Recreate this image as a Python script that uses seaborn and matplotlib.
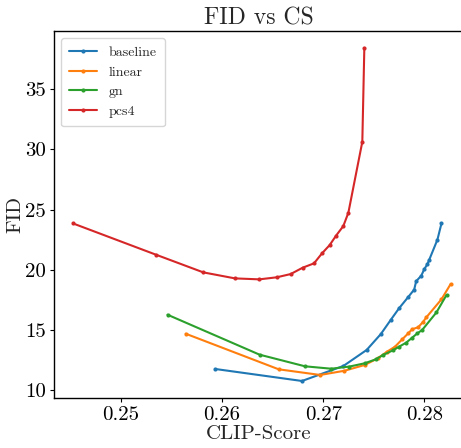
import matplotlib
matplotlib.use("Agg")
import matplotlib.pyplot as plt
import seaborn as sns
import pandas as pd

baseline_x = [0.2593, 0.2679, 0.2720, 0.2743, 0.2757, 0.2767, 0.2775, 0.2784, 0.2790, 0.2792,
              0.2797, 0.2800, 0.2803, 0.2805, 0.2813, 0.2817]
baseline_y = [11.75, 10.75, 12.0, 13.33, 14.65, 15.85, 16.79, 17.72, 18.35, 19.05,
              19.5, 20.05, 20.45, 20.85, 22.5, 23.85]

linear_x = [0.2564, 0.2656, 0.2697, 0.2721, 0.2741, 0.2754, 0.2763, 0.2771, 0.2778, 0.2784,
            0.2788, 0.2794, 0.2799, 0.2802, 0.2817, 0.2826]
linear_y = [14.68, 11.72, 11.25, 11.6, 12.08, 12.63, 13.18, 13.6, 14.2, 14.7,
            15.05, 15.22, 15.68, 16.04, 17.54, 18.8]

gn_x = [0.2546, 0.2637, 0.2682, 0.2708, 0.2726, 0.2741, 0.2752, 0.2759, 0.2769, 0.2775,
        0.2782, 0.2788, 0.2793, 0.2798, 0.2812, 0.2822]
gn_y = [16.26, 12.94, 11.97, 11.77, 11.95, 12.22, 12.55, 12.9, 13.3, 13.6,
        13.93, 14.35, 14.7, 15.0, 16.45, 17.9]

pcs4_x = [0.24525, 0.25346, 0.25814, 0.26128, 0.26368, 0.2654, 0.26678, 0.26797, 0.26909,
          0.26988, 0.27064, 0.27127, 0.27199, 0.27249, 0.27387, 0.27407]
pcs4_y = [23.85, 21.25, 19.78, 19.28, 19.2, 19.37, 19.64, 20.17, 20.53,
          21.36, 22.05, 22.83, 23.63, 24.74, 30.64, 38.45]

series = {
    "baseline": (baseline_x, baseline_y),
    "linear": (linear_x, linear_y),
    "gn": (gn_x, gn_y),
    "pcs4": (pcs4_x, pcs4_y),
}

rows = []
for name, (xs, ys) in series.items():
    for xv, yv in zip(xs, ys):
        rows.append({"method": name, "CLIP-Score": xv, "FID": yv})
df = pd.DataFrame(rows)

sns.set_style("white")
plt.rcParams["font.family"] = ["cmr10", "DejaVu Serif"]
plt.rcParams["axes.formatter.use_mathtext"] = True
plt.rcParams["mathtext.fontset"] = "cm"

fig = plt.figure(figsize=(4.61, 4.48), dpi=100)
ax = fig.add_axes([54 / 461, (448 - 397.7) / 448, (463 - 54) / 461, (397.7 - 31) / 448])

palette = ["#1f77b4", "#ff7f0e", "#2ca02c", "#d62728"]
sns.lineplot(data=df, x="CLIP-Score", y="FID", hue="method",
             sort=False, estimator=None, palette=palette, marker="o", markersize=3,
             markeredgewidth=0, linewidth=1.5, ax=ax)

ax.set_xlim(0.24337, 0.28383)
ax.set_ylim(9.36, 39.85)
ax.set_xticks([0.25, 0.26, 0.27, 0.28])
ax.set_xticklabels(["0.25", "0.26", "0.27", "0.28"])
ax.set_yticks([10, 15, 20, 25, 30, 35])
ax.set_yticklabels(["10", "15", "20", "25", "30", "35"])
ax.tick_params(axis="both", labelsize=15, direction="out", length=3, width=0.8,
               bottom=True, left=True, colors="black", pad=3)
for s in ax.spines.values():
    s.set_color("black")
    s.set_linewidth(1.0)

ax.set_xlabel("CLIP-Score", fontsize=15, labelpad=1)
ax.set_ylabel("FID", fontsize=15, labelpad=0)
ax.set_title("FID vs CS", fontsize=17, pad=5)

leg = ax.legend(loc="upper left", fontsize=10, frameon=True, handlelength=2.0,
                borderpad=0.6, labelspacing=0.5, borderaxespad=0.5)
leg.get_frame().set_edgecolor("#cccccc")

fig.savefig("out.png", dpi=100)
